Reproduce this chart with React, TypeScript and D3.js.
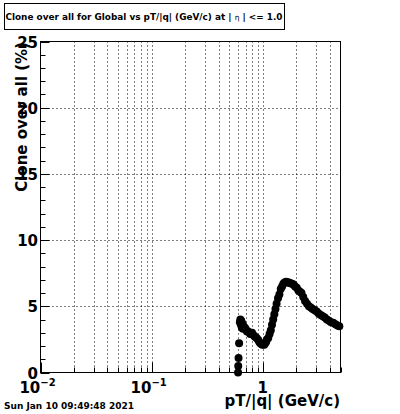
import React, { useEffect, useRef } from 'react';
import * as d3 from 'd3';

// pT/|q| (GeV/c) and clone rate (%)
const ptValues = [
  0.599, 0.601, 0.605, 0.612,
  0.622, 0.628, 0.635, 0.64, 0.648, 0.655, 0.662, 0.672, 0.685, 0.70, 0.72, 0.74, 0.77, 0.80,
  0.83, 0.85, 0.88, 0.91, 0.93, 0.95, 0.97, 0.99, 1.01, 1.03, 1.05, 1.07, 1.09, 1.12,
  1.15, 1.18, 1.21, 1.24, 1.27, 1.30, 1.33, 1.37, 1.41, 1.45, 1.49, 1.53, 1.57, 1.62,
  1.67, 1.72, 1.77, 1.83, 1.89, 1.95, 2.02, 2.09, 2.16, 2.23, 2.31, 2.40, 2.50, 2.60,
  2.70, 2.81, 2.93, 3.05, 3.18, 3.32, 3.46, 3.61, 3.77, 3.94, 4.11, 4.30, 4.50, 4.70, 4.88,
];
const cloneRates = [
  0.0, 0.5, 1.1, 2.2,
  3.8, 4.0, 3.6, 3.9, 3.4, 3.7, 3.3, 3.5, 3.4, 3.3, 3.1, 3.1, 2.9, 3.0,
  2.8, 2.7, 2.6, 2.45, 2.3, 2.2, 2.15, 2.1, 2.15, 2.1, 2.2, 2.3, 2.5, 2.6,
  2.9, 3.2, 3.6, 4.0, 4.4, 4.8, 5.2, 5.6, 5.9, 6.3, 6.5, 6.7, 6.8, 6.85,
  6.8, 6.8, 6.75, 6.7, 6.65, 6.5, 6.4, 6.2, 6.1, 6.0, 5.7, 5.4, 5.2, 5.0,
  4.9, 4.8, 4.7, 4.6, 4.45, 4.35, 4.25, 4.15, 4.0, 3.9, 3.8, 3.75, 3.65, 3.55, 3.5,
];
const yTicks = [0, 5, 10, 15, 20, 25];
const xDecades = [0.01, 0.1, 1];

const App = () => {
  const ref = useRef<SVGSVGElement>(null);

  useEffect(() => {
    const svg = d3.select(ref.current);
    svg.selectAll('*').remove();

    const left = 40.5, right = 340.5, top = 41.5, bottom = 372.5;
    const font = 'DejaVu Sans, sans-serif';

    const x = d3.scaleLog().domain([0.01, 5]).range([left, right]);
    const y = d3.scaleLinear().domain([0, 25]).range([bottom, top]);

    svg.append('rect').attr('width', 400).attr('height', 414).attr('fill', '#fff');

    // all log ticks for grid + tick marks
    const logTicks: number[] = [];
    for (const d of [0.01, 0.1, 1]) {
      for (let k = 1; k <= 9; k++) {
        const v = d * k;
        if (v > 0.01 && v <= 5) logTicks.push(v);
      }
    }

    const g = svg.append('g');

    // grid
    g.selectAll('line.vgrid')
      .data(logTicks.filter(v => v < 5))
      .enter()
      .append('line')
      .attr('x1', d => Math.round(x(d)) + 0.5)
      .attr('x2', d => Math.round(x(d)) + 0.5)
      .attr('y1', top)
      .attr('y2', bottom)
      .attr('stroke', '#000')
      .attr('stroke-dasharray', '1,3');

    g.selectAll('line.hgrid')
      .data(yTicks.filter(v => v > 0 && v < 25))
      .enter()
      .append('line')
      .attr('x1', left)
      .attr('x2', right)
      .attr('y1', d => Math.round(y(d)) + 0.5)
      .attr('y2', d => Math.round(y(d)) + 0.5)
      .attr('stroke', '#000')
      .attr('stroke-dasharray', '1,3');

    // frame
    g.append('rect')
      .attr('x', left)
      .attr('y', top)
      .attr('width', right - left)
      .attr('height', bottom - top)
      .attr('fill', 'none')
      .attr('stroke', '#000');

    // y ticks (inside)
    const yMinor = d3.range(0, 26, 1);
    g.selectAll('line.ytick')
      .data(yMinor)
      .enter()
      .append('line')
      .attr('x1', left)
      .attr('x2', d => left + (d % 5 === 0 ? 9 : 5))
      .attr('y1', d => Math.round(y(d)) + 0.5)
      .attr('y2', d => Math.round(y(d)) + 0.5)
      .attr('stroke', '#000');

    // x ticks (inside, upward)
    g.selectAll('line.xtick')
      .data(logTicks.concat([0.01]))
      .enter()
      .append('line')
      .attr('x1', d => Math.round(x(d)) + 0.5)
      .attr('x2', d => Math.round(x(d)) + 0.5)
      .attr('y1', bottom)
      .attr('y2', d => bottom - (xDecades.includes(+d.toPrecision(3)) ? 10 : 5))
      .attr('stroke', '#000');

    // y tick labels
    g.selectAll('text.ylab')
      .data(yTicks)
      .enter()
      .append('text')
      .attr('x', 38)
      .attr('y', d => y(d) + 6)
      .attr('text-anchor', 'end')
      .attr('font-family', font)
      .attr('font-weight', 'bold')
      .attr('font-size', 15)
      .text(d => d);

    // x tick labels
    xDecades.forEach(d => {
      const t = g.append('text')
        .attr('x', x(d))
        .attr('y', 393)
        .attr('text-anchor', 'middle')
        .attr('font-family', font)
        .attr('font-weight', 'bold')
        .attr('font-size', 15);
      if (d === 1) {
        t.text('1');
      } else {
        t.attr('x', x(d) - 3);
        t.append('tspan').text('10');
        t.append('tspan')
          .attr('dy', -7)
          .attr('font-size', 10)
          .text(d === 0.01 ? '\u22122' : '\u22121');
      }
    });

    // axis titles
    g.append('text')
      .attr('x', 340)
      .attr('y', 406)
      .attr('text-anchor', 'end')
      .attr('font-family', font)
      .attr('font-weight', 'bold')
      .attr('font-size', 15)
      .text('pT/|q| (GeV/c)');

    g.append('text')
      .attr('transform', 'translate(27,42) rotate(-90)')
      .attr('text-anchor', 'end')
      .attr('font-family', font)
      .attr('font-weight', 'bold')
      .attr('font-size', 15)
      .text('Clone  over all (%)');

    // points
    const pts = ptValues.map((p, i) => ({ p, v: cloneRates[i] }));
    g.selectAll('circle')
      .data(pts)
      .enter()
      .append('circle')
      .attr('cx', d => x(d.p))
      .attr('cy', d => y(d.v))
      .attr('r', 4)
      .attr('fill', '#000');

    // title box
    svg.append('rect')
      .attr('x', 4.5)
      .attr('y', 3.5)
      .attr('width', 280)
      .attr('height', 26)
      .attr('fill', '#fff')
      .attr('stroke', '#000');

    const title = svg.append('text')
      .attr('x', 144)
      .attr('y', 20)
      .attr('text-anchor', 'middle')
      .attr('font-family', font)
      .attr('font-weight', 'bold')
      .attr('font-size', 8.9);
    title.append('tspan').text('Clone  over all for Global vs pT/|q| (GeV/c) at |  ');
    title.append('tspan').attr('font-weight', 'normal').attr('font-size', 7.5).text('\u03b7');
    title.append('tspan').text(' | <= 1.0');

    // date stamp
    svg.append('text')
      .attr('x', 4)
      .attr('y', 409)
      .attr('font-family', font)
      .attr('font-weight', 'bold')
      .attr('font-size', 9)
      .text('Sun Jan 10 09:49:48 2021');
  }, []);

  return (
    <svg
      ref={ref}
      width={400}
      height={414}
      style={{ position: 'absolute', left: 0, top: 0, display: 'block' }}
    />
  );
};

export default App;
